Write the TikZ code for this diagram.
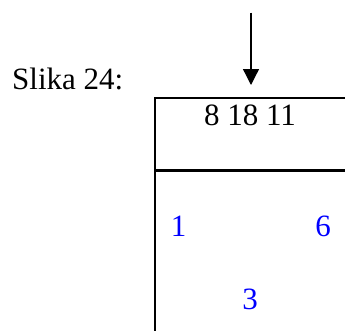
\documentclass[tikz,border=0pt]{standalone}
\usepackage{fontspec}
\setmainfont{Liberation Serif}
\usetikzlibrary{arrows.meta}
\definecolor{KeyBlue}{RGB}{0,0,255}

\begin{document}
\begin{tikzpicture}[
    x=1pt,
    y=-1pt,
    cell/.style={
        rectangle,
        draw=black,
        line width=1.3pt,
        anchor=north west,
        minimum width=260pt,
        inner sep=0pt
    },
    label/.style={
        anchor=base,
        inner sep=0pt,
        font=\fontsize{31}{36}\selectfont
    },
    key/.style={
        label,
        text=KeyBlue
    },
    arrow/.style={
        -{Triangle[width=16pt,length=16pt]},
        line width=1.3pt
    }
]

\useasboundingbox (0,0) rectangle (345,330);

\node[label, anchor=base west] (caption) at (12,89)
    {Slika 24:};


\node[cell, minimum height=72pt] (head) at (154.3,97.3) {};

\node[cell, minimum height=200pt] (body) at (head.south west) {};


\node[label] (keys) at (250,125)
    {8 18 11};


\node[key] (left) at (178.5,236) {1};
\node[key] (right) at (323,236) {6};
\node[key] (bottom) at (250,309) {3};


\coordinate (src) at (251,12.7);
\coordinate (dst) at (251,85);

\draw[arrow] (src) -- (dst);

\end{tikzpicture}
\end{document}
